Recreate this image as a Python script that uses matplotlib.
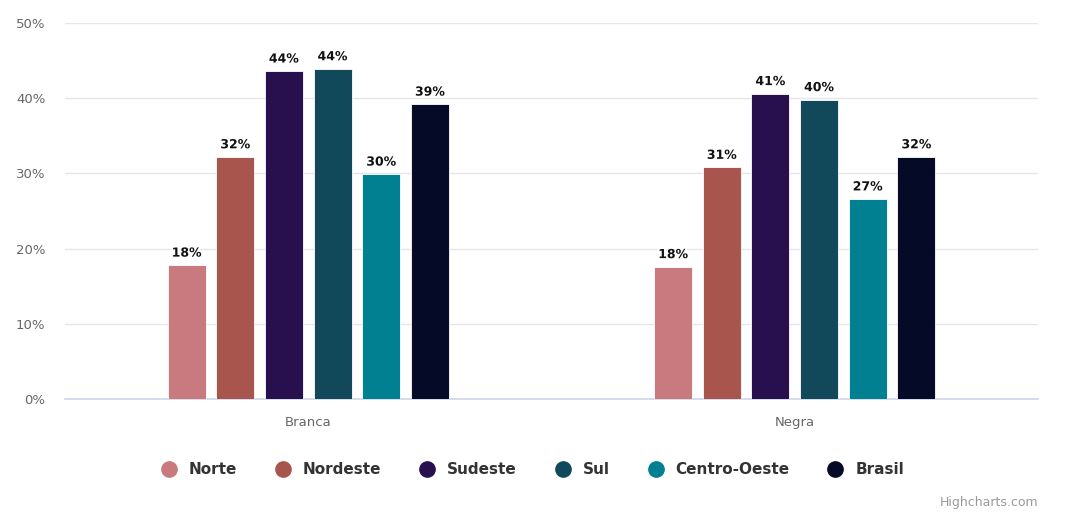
import matplotlib
matplotlib.use("Agg")
import matplotlib.pyplot as plt
import matplotlib.patheffects as pe
from matplotlib.lines import Line2D
import numpy as np

categories = ["Branca", "Negra"]
series_names = ["Norte", "Nordeste", "Sudeste", "Sul", "Centro-Oeste", "Brasil"]
norte = [17.8, 17.6]
nordeste = [32.2, 30.8]
sudeste = [43.6, 40.6]
sul = [43.9, 39.8]
centro_oeste = [29.9, 26.6]
brasil = [39.2, 32.2]
y_ticks = [0, 10, 20, 30, 40, 50]

series_values = [norte, nordeste, sudeste, sul, centro_oeste, brasil]
colors = ["#c97a7e", "#a8554d", "#28104e", "#11495a", "#008090", "#050a26"]

fig = plt.figure(figsize=(10.74, 5.21), dpi=100)
ax = fig.add_axes([0.0605, 0.234, 0.906, 0.722])

x = np.arange(len(categories))
pitch = 0.1
width = 0.078
n = len(series_names)
halo = [pe.withStroke(linewidth=2.5, foreground="white")]

for i, (name, vals, col) in enumerate(zip(series_names, series_values, colors)):
    pos = x + (i - (n - 1) / 2) * pitch
    ax.bar(pos, vals, width=width, color=col, edgecolor="white", linewidth=0.6,
           zorder=3, label=name)
    for px, v in zip(pos, vals):
        ax.annotate(f"{round(v)}%", (px, v), xytext=(0, 4), textcoords="offset points",
                    ha="center", va="bottom", fontsize=9, fontweight="bold",
                    color="#111111", path_effects=halo, zorder=4)

ax.set_xlim(-0.5, 1.5)
ax.set_ylim(0, 50)
ax.set_yticks(y_ticks)
ax.set_yticklabels([f"{t}%" for t in y_ticks])
ax.set_xticks(x)
ax.set_xticklabels(categories)

ax.yaxis.grid(True, color="#e6e6e6", linewidth=1, zorder=0)
ax.set_axisbelow(True)
for side in ["top", "right", "left"]:
    ax.spines[side].set_visible(False)
ax.spines["bottom"].set_color("#ccd6eb")
ax.spines["bottom"].set_linewidth(1.2)

ax.tick_params(axis="y", length=0, pad=14, labelsize=9.5, labelcolor="#666666")
ax.tick_params(axis="x", length=0, pad=12, labelsize=9.5, labelcolor="#666666")

handles = [Line2D([0], [0], marker="o", linestyle="", markersize=11,
                  markerfacecolor=c, markeredgecolor=c) for c in colors]
leg = fig.legend(handles, series_names, loc="center", bbox_to_anchor=(0.4925, 0.098),
                 ncol=6, frameon=False, handletextpad=0.3, columnspacing=2.0,
                 prop={"weight": "bold", "size": 11})
for t in leg.get_texts():
    t.set_color("#333333")

fig.text(0.9665, 0.035, "Highcharts.com", ha="right", va="center",
         fontsize=9, color="#999999")

fig.savefig("out.png", dpi=100, facecolor="white")
